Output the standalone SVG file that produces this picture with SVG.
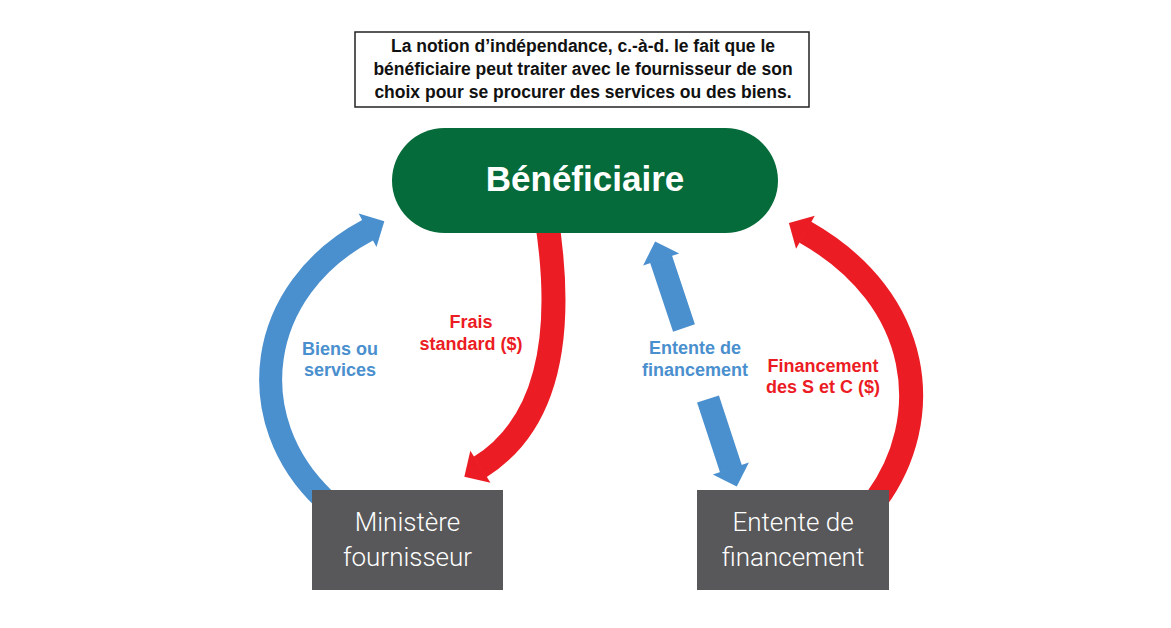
<svg xmlns="http://www.w3.org/2000/svg" width="1171" height="628" viewBox="0 0 1171 628">
<style>
.note{font-family:"Liberation Sans",Arial,sans-serif;font-weight:bold;font-size:17.5px;fill:#111;text-anchor:middle}
.lbl{font-family:"Liberation Sans",Arial,sans-serif;font-weight:bold;font-size:18px;text-anchor:middle}
.blue{fill:#4a8fce}
.red{fill:#ec1c24}
.box{font-family:Roboto,"Liberation Sans",sans-serif;font-weight:300;font-size:26px;fill:#fff;text-anchor:middle}
.cb{fill:none;stroke:#4a8fce;stroke-width:23}
.cr{fill:none;stroke:#ec1c24;stroke-width:24}
</style>
<defs>
<marker id="ab" markerUnits="userSpaceOnUse" markerWidth="40" markerHeight="40" refX="0.5" refY="0" orient="auto" overflow="visible"><path d="M0,-19 L19,0 L0,19 Z" fill="#4a8fce"/></marker>
<marker id="ar" markerUnits="userSpaceOnUse" markerWidth="40" markerHeight="40" refX="0.5" refY="0" orient="auto" overflow="visible"><path d="M0,-19 L19,0 L0,19 Z" fill="#ec1c24"/></marker>
</defs>
<rect width="1171" height="628" fill="#fff"/>
<g id="connectors">
<path class="cb" d="M325 500 C240 420 255 290 368 230" marker-end="url(#ab)"/>
<path class="cr" d="M546 215 C563 320 555 420 480 467" marker-end="url(#ar)"/>
<path class="cb" d="M684 328 L661 259" marker-end="url(#ab)"/>
<path class="cb" d="M708 399 L731 469" marker-end="url(#ab)"/>
<path class="cr" d="M876 500 C935 420 925 300 805 232" marker-end="url(#ar)"/>
<text class="lbl blue" x="340" y="355">Biens ou</text>
<text class="lbl blue" x="340" y="376">services</text>
<text class="lbl red" x="471" y="328">Frais</text>
<text class="lbl red" x="471" y="350">standard ($)</text>
<text class="lbl blue" x="695" y="354">Entente de</text>
<text class="lbl blue" x="695" y="376">financement</text>
<text class="lbl red" x="823" y="372">Financement</text>
<text class="lbl red" x="823" y="393">des S et C ($)</text>
</g>
<g id="note">
<rect x="355" y="32" width="454" height="75" fill="#fff" stroke="#222" stroke-width="1.5"/>
<text class="note" x="583" y="52">La notion d’indépendance, c.-à-d. le fait que le</text>
<text class="note" x="583" y="75">bénéficiaire peut traiter avec le fournisseur de son</text>
<text class="note" x="583" y="98">choix pour se procurer des services ou des biens.</text>
</g>
<g id="beneficiaire">
<rect x="392" y="128" width="386" height="105" rx="52.5" fill="#066b3a"/>
<text x="585" y="191" font-family="Liberation Sans, Arial, sans-serif" font-weight="bold" font-size="35" fill="#fff" text-anchor="middle">Bénéficiaire</text>
</g>
<g id="ministere">
<rect x="312" y="490" width="191" height="100" fill="#58585a"/>
<text class="box" x="407.5" y="531">Ministère</text>
<text class="box" x="407.5" y="566">fournisseur</text>
</g>
<g id="entente">
<rect x="697" y="490" width="192" height="100" fill="#58585a"/>
<text class="box" x="793" y="531">Entente de</text>
<text class="box" x="793" y="566">financement</text>
</g>
</svg>
